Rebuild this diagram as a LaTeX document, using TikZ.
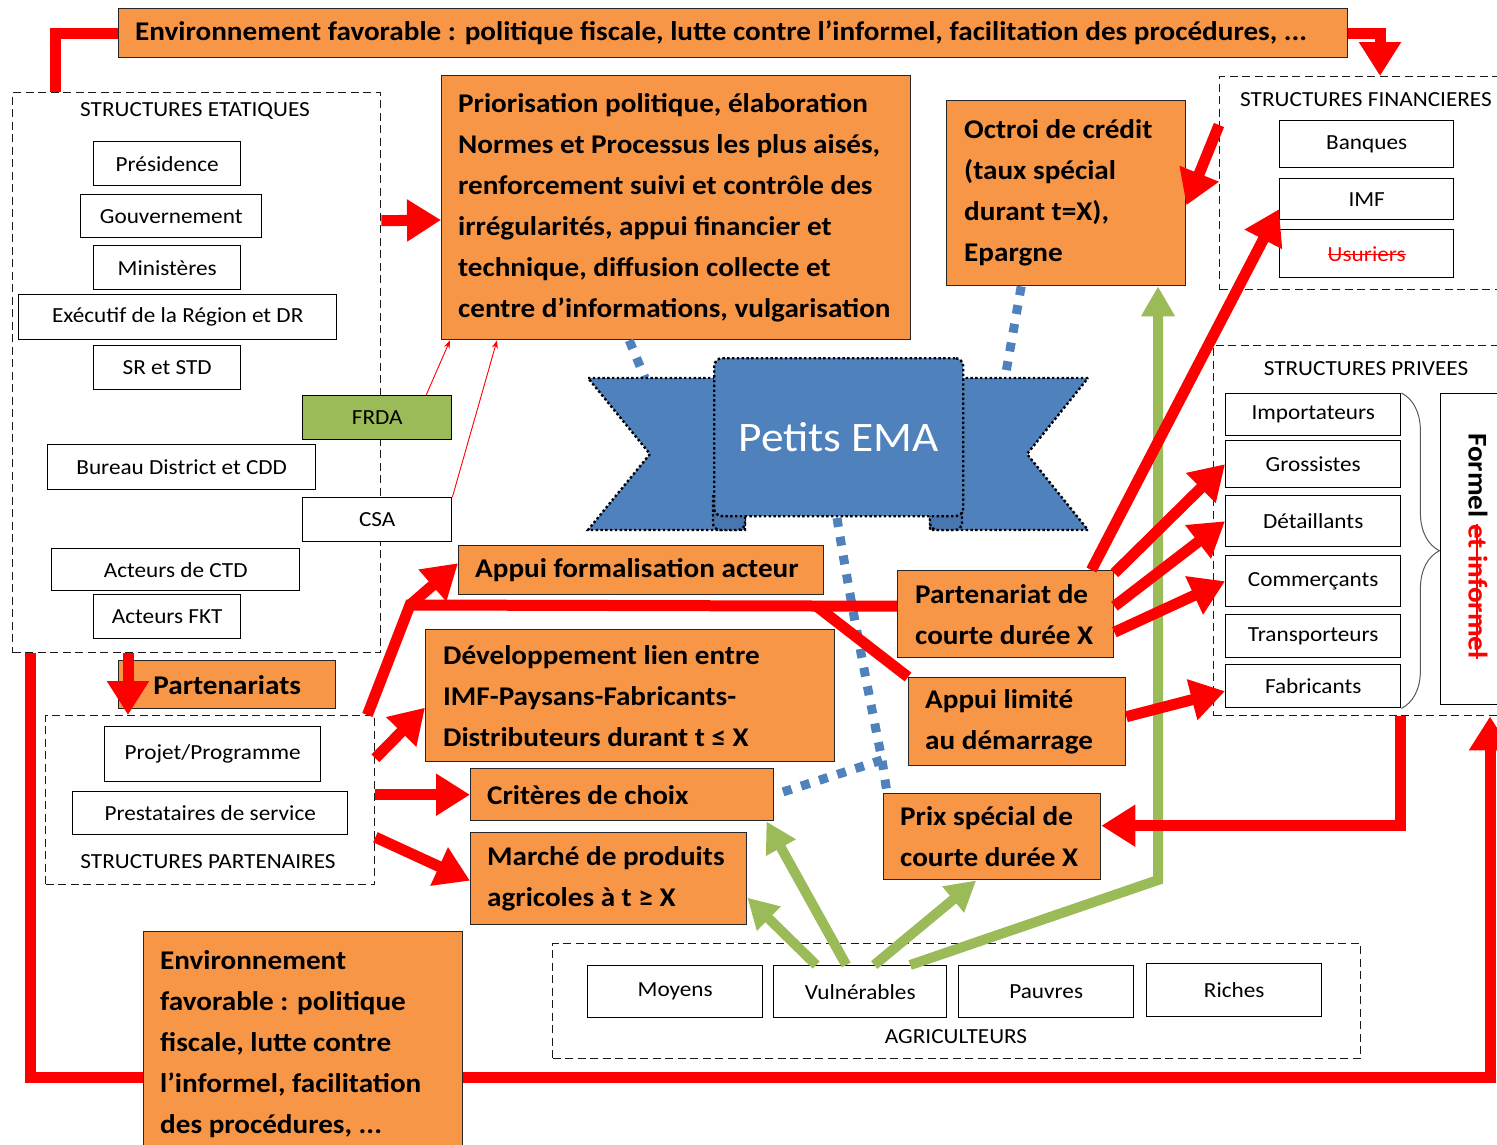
\documentclass[tikz,border=0pt]{standalone}
\usepackage{fontspec}
\setmainfont{Carlito}[FakeStretch=1.08]
\usetikzlibrary{arrows.meta,decorations.pathreplacing,calc}

\definecolor{boxorange}{HTML}{F79646}
\definecolor{leafgreen}{HTML}{9BBB59}
\definecolor{steelblue}{HTML}{4F81BD}
\definecolor{foldblue}{HTML}{4776B0}
\definecolor{vivred}{HTML}{FF0000}

\newsavebox{\strikebox}
\newcommand{\struck}[1]{\sbox{\strikebox}{#1}\rlap{\rule[0.26em]{\wd\strikebox}{0.08em}}\usebox{\strikebox}}

\tikzset{
  groupbox/.style={draw=black!90, line width=1.4pt, dash pattern=on 8pt off 4.5pt, anchor=north west, inner sep=0pt},
  whitebox/.style={draw=black, line width=1.4pt, fill=white, anchor=north west, inner sep=0pt, font=\fontsize{21.5}{24}\selectfont},
  orangebox/.style={draw=black!85, line width=1.4pt, fill=boxorange, anchor=north west, inner sep=0pt},
  otext/.style={align=left, inner sep=0pt, font=\bfseries\fontsize{27}{41}\selectfont},
  grouptitle/.style={font=\fontsize{21.5}{24}\selectfont, inner sep=0pt},
  redline/.style={draw=vivred, line width=11pt},
  redarrow/.style={redline, -{Triangle[length=34pt,width=40pt]}},
  thinred/.style={draw=vivred, line width=0.9pt, -{Stealth[length=8pt,width=6pt]}},
  greenarrow/.style={draw=leafgreen, line width=10pt, -{Triangle[length=30pt,width=32pt]}},
  bluedots/.style={draw=steelblue, line width=9pt, dash pattern=on 9pt off 10pt},
  ribbonpart/.style={fill=steelblue, draw=black, line width=2.4pt, dash pattern=on 2.4pt off 2.4pt},
}

\begin{document}
\begin{tikzpicture}[x=1pt,y=-1pt]
\useasboundingbox (0,0) rectangle (1497,1144);
\clip (0,0) rectangle (1497,1144);

% ---- group frames ----
\node[groupbox, minimum width=368pt, minimum height=560pt] (etat) at (12,92) {};
\node[groupbox, minimum width=290pt, minimum height=213pt] (fin) at (1219,76) {};
\node[groupbox, minimum width=295pt, minimum height=370pt] (priv) at (1213,345) {};
\node[groupbox, minimum width=329pt, minimum height=169pt] (pstruct) at (45,715) {};
\node[groupbox, minimum width=808pt, minimum height=115pt] (agri) at (552,943) {};

\node[grouptitle] (etattitle) at (195,111) {STRUCTURES ETATIQUES};
\node[grouptitle] (fintitle) at (1366,100) {STRUCTURES FINANCIERES};
\node[grouptitle] (privtitle) at (1366,369) {STRUCTURES PRIVEES};
\node[grouptitle] (pstructtitle) at (208,862) {STRUCTURES PARTENAIRES};
\node[grouptitle] (agrititle) at (956,1037) {AGRICULTEURS};

% ---- state actors ----
\node[whitebox, minimum width=147pt, minimum height=44pt] (pres) at (93,141) {Présidence};
\node[whitebox, minimum width=181pt, minimum height=43pt] (gouv) at (80,194) {Gouvernement};
\node[whitebox, minimum width=147pt, minimum height=44pt] (mini) at (93,245) {Ministères};
\node[whitebox, minimum width=318pt, minimum height=45pt] (exec) at (18,294) {Exécutif de la Région et DR};
\node[whitebox, minimum width=147pt, minimum height=44pt] (srstd) at (93,345) {SR et STD};
\node[whitebox, fill=leafgreen, minimum width=149pt, minimum height=44pt] (frda) at (302,395) {FRDA};
\node[whitebox, minimum width=268pt, minimum height=45pt] (bureau) at (47,444) {Bureau District et CDD};
\node[whitebox, minimum width=149pt, minimum height=44pt] (csa) at (302,497) {CSA};
\node[whitebox, minimum width=248pt, minimum height=42pt] (ctd) at (51,548) {Acteurs de CTD};
\node[whitebox, minimum width=147pt, minimum height=44pt] (fkt) at (93,594) {Acteurs FKT};

% ---- financial actors ----
\node[whitebox, minimum width=174pt, minimum height=47pt] (banq) at (1279,120) {Banques};
\node[whitebox, minimum width=174pt, minimum height=41pt] (imf) at (1279,178) {IMF};
\node[whitebox, minimum width=174pt, minimum height=48pt, text=vivred] (usur) at (1279,229) {\struck{Usuriers}};

% ---- private actors ----
\node[whitebox, minimum width=175pt, minimum height=42pt] (impo) at (1225,393) {Importateurs};
\node[whitebox, minimum width=175pt, minimum height=47pt] (gros) at (1225,440) {Grossistes};
\node[whitebox, minimum width=175pt, minimum height=51pt] (det) at (1225,495) {Détaillants};
\node[whitebox, minimum width=175pt, minimum height=51pt] (com) at (1225,555) {Commerçants};
\node[whitebox, minimum width=175pt, minimum height=43pt] (trans) at (1225,614) {Transporteurs};
\node[whitebox, minimum width=175pt, minimum height=43pt] (fab) at (1225,664) {Fabricants};
\draw[draw=black!65, line width=1pt, decorate, decoration={brace, amplitude=38pt}] (impo.north east) -- (fab.south east);
\node[whitebox, minimum width=70pt, minimum height=311pt] (formel) at (1440,393) {};
\node[rotate=-90, anchor=west, inner sep=0pt, font=\bfseries\fontsize{27}{30}\selectfont] (formeltxt) at (1478,433) {Formel \textcolor{vivred}{\struck{et informel}}};

% ---- partner structures ----
\node[whitebox, minimum width=216pt, minimum height=55pt] (projet) at (104,726) {Projet/Programme};
\node[whitebox, minimum width=275pt, minimum height=43pt] (prest) at (72,791) {Prestataires de service};

% ---- farmers ----
\node[whitebox, minimum width=175pt, minimum height=52pt] (moy) at (587,965) {Moyens};
\node[whitebox, minimum width=173pt, minimum height=52pt] (vul) at (773,965) {Vulnérables};
\node[whitebox, minimum width=175pt, minimum height=52pt] (pauv) at (958,965) {Pauvres};
\node[whitebox, minimum width=175pt, minimum height=53pt] (rich) at (1146,963) {Riches};

% ---- orange action boxes ----
\node[orangebox, minimum width=1229pt, minimum height=49pt] (topenv) at (118,8) {};
\node[otext, anchor=west] (topenvT) at ([xshift=17pt]topenv.west) {Environnement favorable : politique fiscale, lutte contre l’informel, facilitation des procédures, ...};

\node[orangebox, minimum width=469pt, minimum height=264pt] (prio) at (441,75) {};
\node[otext, anchor=west] (prioT) at ([xshift=17pt]prio.west) {Priorisation politique, élaboration\\Normes et Processus les plus aisés,\\renforcement suivi et contrôle des\\irrégularités, appui financier et\\technique, diffusion collecte et\\centre d’informations, vulgarisation};

\node[orangebox, minimum width=239pt, minimum height=185pt] (oct) at (946,100) {};
\node[otext, anchor=west] (octT) at ([xshift=18pt]oct.west) {Octroi de crédit\\(taux spécial\\durant t=X),\\Epargne};

\node[orangebox, minimum width=365pt, minimum height=49pt] (appf) at (458,545) {};
\node[otext, anchor=west] (appfT) at ([xshift=17pt]appf.west) {Appui formalisation acteur};

\node[orangebox, minimum width=409pt, minimum height=132pt] (dev) at (425,629) {};
\node[otext, anchor=west] (devT) at ([xshift=18pt]dev.west) {Développement lien entre\\IMF-Paysans-Fabricants-\\Distributeurs durant t ≤ X};

\node[orangebox, minimum width=303pt, minimum height=52pt] (crit) at (470,768) {};
\node[otext, anchor=west] (critT) at ([xshift=17pt]crit.west) {Critères de choix};

\node[orangebox, minimum width=276pt, minimum height=92pt] (marche) at (470,832) {};
\node[otext, anchor=west] (marcheT) at ([xshift=17pt]marche.west) {Marché de produits\\agricoles à t ≥ X};

\node[orangebox, minimum width=216pt, minimum height=87pt] (part) at (897,570) {};
\node[otext, anchor=west] (partT) at ([xshift=18pt]part.west) {Partenariat de\\courte durée X};

\node[orangebox, minimum width=217pt, minimum height=88pt] (applim) at (908,677) {};
\node[otext, anchor=west] (applimT) at ([xshift=17pt]applim.west) {Appui limité\\au démarrage};

\node[orangebox, minimum width=217pt, minimum height=86pt] (prix) at (883,793) {};
\node[otext, anchor=west] (prixT) at ([xshift=17pt]prix.west) {Prix spécial de\\courte durée X};

\node[orangebox, minimum width=217pt, minimum height=48pt] (partn) at (118,660) {};
\node[otext] (partnT) at (partn.center) {Partenariats};

% ---- dotted links to the ribbon ----
\coordinate (ribL) at (645,378);
\coordinate (ribR) at (1005,378);
\coordinate (emaS) at (837,518);
\coordinate (dotsplit) at (882,760);
\draw[bluedots] ([xshift=-47pt]prio.south) -- (ribL);
\draw[bluedots] ([xshift=-45pt]oct.south) -- (ribR);
\draw[bluedots] (emaS) .. controls (850,600) and (870,700) .. (dotsplit) -- ([xshift=4pt]prix.north west);
\draw[bluedots] (dotsplit) -- (crit.east);

% ---- ribbon ----
\path[ribbonpart] (588,378) -- (745,378) -- (745,530) -- (588,530) -- (650,454) -- cycle;
\path[ribbonpart] (1088,378) -- (930,378) -- (930,530) -- (1088,530) -- (1027,454) -- cycle;
\path[ribbonpart, fill=foldblue, rounded corners=7pt] (713,495) -- (713,530) -- (745,530) -- (745,495);
\path[ribbonpart, fill=foldblue, rounded corners=7pt] (930,495) -- (930,530) -- (962,530) -- (962,495);
\node[ribbonpart, rounded corners=8pt, minimum width=249pt, minimum height=158pt, anchor=north west, inner sep=0pt, text=white, font=\fontsize{42}{46}\selectfont] (ema) at (713,357) {Petits EMA};

% ---- green links from farmers ----
\coordinate (gbend) at (1158,880);
\draw[greenarrow] ([xshift=-44pt]vul.north) -- ([yshift=-19pt]marche.east);
\draw[greenarrow] ([xshift=-14pt]vul.north) -- ([xshift=-8pt]crit.south east);
\draw[greenarrow] ([xshift=14pt]vul.north) -- ([xshift=-16pt]prix.south);
\draw[greenarrow] ([xshift=50pt]vul.north) -- (gbend) -- (oct.south -| gbend);

% ---- red links ----
\draw[redline] (topenv.west) -| ([xshift=43pt]etat.north west);
\draw[redarrow] (topenv.east) -| ([xshift=161pt]fin.north west);
\draw[redarrow] ([yshift=152pt]etat.east) -- (prio.west |- 0,220);
\draw[thinred] ([xshift=49pt]frda.north) -- ([xshift=9pt]prio.south west);
\draw[thinred] (csa.north east) -- ([xshift=56pt]prio.south west);
\draw[redarrow] ([yshift=-49pt]fin.north west) -- ([yshift=-12pt]oct.east);
\draw[redarrow] ([xshift=-23pt]part.north east) -- ([yshift=-10pt]imf.west);
\draw[redarrow] ([yshift=41pt]part.east) -- (gros.west);
\draw[redarrow] ([yshift=8pt]part.east) -- (det.west);
\draw[redarrow] ([yshift=-18pt]part.east) -- (com.west);
\draw[redarrow] ([yshift=5pt]applim.east) -- ([yshift=-5pt]fab.west);

\coordinate (rj1) at (410,605);
\coordinate (rj2) at (815,605);
\draw[redline] ([xshift=-8pt]pstruct.north east) -- (rj1) -- ([yshift=8pt]part.west);
\draw[redarrow] (rj1) -- ([yshift=7pt]appf.west);
\draw[redline] (rj2) -- (applim.north west);

\draw[redarrow] ([yshift=42pt]pstruct.east) -- ([yshift=-12pt]dev.west);
\draw[redarrow] (pstruct.east |- crit.west) -- (crit.west);
\draw[redarrow] ([yshift=-37pt]pstruct.east) -- ([yshift=-2pt]marche.west);
\draw[redarrow] ([xshift=116pt]etat.south west) -- ([xshift=83pt]pstruct.north west);
\draw[redarrow] ([xshift=187pt]priv.south west) |- ([yshift=11pt]prix.east);

\coordinate (loopA) at ([xshift=18pt]etat.south west);
\coordinate (loopB) at ([xshift=277pt]priv.south west);
\coordinate (loopy) at (0,1077);
\draw[redarrow] (loopA) -- (loopA |- loopy) -- (loopB |- loopy) -- (loopB);

% ---- bottom policy box over the loop ----
\node[orangebox, minimum width=319pt, minimum height=240pt] (botenv) at (143,931) {};
\node[otext, anchor=north west] (botenvT) at (160,950) {Environnement\\favorable : politique\\fiscale, lutte contre\\l’informel, facilitation\\des procédures, ...};

\end{tikzpicture}
\end{document}
